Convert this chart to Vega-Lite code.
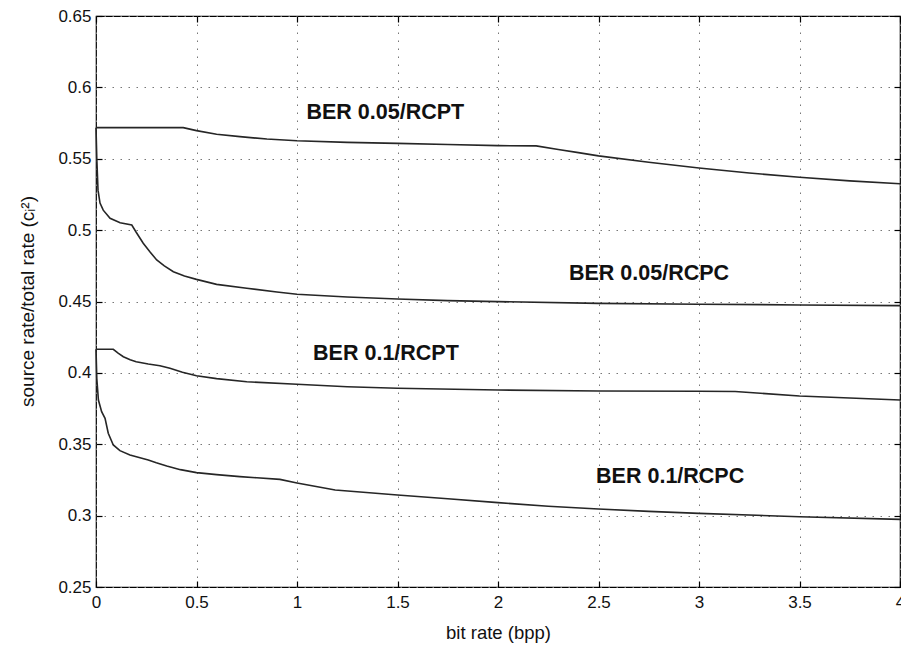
{
  "$schema": "https://vega.github.io/schema/vega-lite/v6.json",
  "width": 804,
  "height": 571,
  "autosize": "none",
  "padding": {"left": 96, "top": 16, "right": 1, "bottom": 58},
  "background": "white",
  "config": {
    "font": "Liberation Sans",
    "view": {"stroke": "#000", "strokeWidth": 1.2}
  },
  "datasets": {
    "curves": [
      {"series": "A", "x": 0, "y": 0.5718},
      {"series": "A", "x": 0.434, "y": 0.5718},
      {"series": "A", "x": 0.5, "y": 0.5697},
      {"series": "A", "x": 0.6, "y": 0.5672},
      {"series": "A", "x": 0.716, "y": 0.5655},
      {"series": "A", "x": 0.85, "y": 0.5638},
      {"series": "A", "x": 1.0, "y": 0.5626},
      {"series": "A", "x": 1.25, "y": 0.5615},
      {"series": "A", "x": 1.5, "y": 0.5608},
      {"series": "A", "x": 1.75, "y": 0.56},
      {"series": "A", "x": 2.0, "y": 0.5592},
      {"series": "A", "x": 2.19, "y": 0.559},
      {"series": "A", "x": 2.3, "y": 0.5565},
      {"series": "A", "x": 2.4, "y": 0.5543},
      {"series": "A", "x": 2.5, "y": 0.552},
      {"series": "A", "x": 2.75, "y": 0.5475},
      {"series": "A", "x": 3.0, "y": 0.5435},
      {"series": "A", "x": 3.25, "y": 0.54},
      {"series": "A", "x": 3.5, "y": 0.537},
      {"series": "A", "x": 3.75, "y": 0.5345},
      {"series": "A", "x": 4.0, "y": 0.5325},

      {"series": "B", "x": 0, "y": 0.5718},
      {"series": "B", "x": 0.004, "y": 0.55},
      {"series": "B", "x": 0.01, "y": 0.528},
      {"series": "B", "x": 0.02, "y": 0.519},
      {"series": "B", "x": 0.036, "y": 0.514},
      {"series": "B", "x": 0.07, "y": 0.5083},
      {"series": "B", "x": 0.12, "y": 0.5052},
      {"series": "B", "x": 0.178, "y": 0.5036},
      {"series": "B", "x": 0.2, "y": 0.4985},
      {"series": "B", "x": 0.235, "y": 0.4908},
      {"series": "B", "x": 0.27, "y": 0.4845},
      {"series": "B", "x": 0.302, "y": 0.4791},
      {"series": "B", "x": 0.34, "y": 0.475},
      {"series": "B", "x": 0.385, "y": 0.4709},
      {"series": "B", "x": 0.44, "y": 0.4678},
      {"series": "B", "x": 0.5, "y": 0.4655},
      {"series": "B", "x": 0.6, "y": 0.462},
      {"series": "B", "x": 0.75, "y": 0.4593},
      {"series": "B", "x": 0.9, "y": 0.4566},
      {"series": "B", "x": 1.0, "y": 0.4551},
      {"series": "B", "x": 1.25, "y": 0.4532},
      {"series": "B", "x": 1.5, "y": 0.4517},
      {"series": "B", "x": 1.75, "y": 0.4506},
      {"series": "B", "x": 2.0, "y": 0.4499},
      {"series": "B", "x": 2.5, "y": 0.4487},
      {"series": "B", "x": 3.0, "y": 0.4481},
      {"series": "B", "x": 3.5, "y": 0.4476},
      {"series": "B", "x": 4.0, "y": 0.4471},

      {"series": "C", "x": 0, "y": 0.4165},
      {"series": "C", "x": 0.086, "y": 0.4165},
      {"series": "C", "x": 0.11, "y": 0.4138},
      {"series": "C", "x": 0.136, "y": 0.4113},
      {"series": "C", "x": 0.17, "y": 0.4092},
      {"series": "C", "x": 0.2, "y": 0.4078},
      {"series": "C", "x": 0.26, "y": 0.4062},
      {"series": "C", "x": 0.318, "y": 0.405},
      {"series": "C", "x": 0.368, "y": 0.4032},
      {"series": "C", "x": 0.43, "y": 0.4005},
      {"series": "C", "x": 0.5, "y": 0.398},
      {"series": "C", "x": 0.6, "y": 0.396},
      {"series": "C", "x": 0.75, "y": 0.3938},
      {"series": "C", "x": 1.0, "y": 0.392},
      {"series": "C", "x": 1.25, "y": 0.3903},
      {"series": "C", "x": 1.5, "y": 0.3892},
      {"series": "C", "x": 2.0, "y": 0.388},
      {"series": "C", "x": 2.5, "y": 0.3873},
      {"series": "C", "x": 3.0, "y": 0.3871},
      {"series": "C", "x": 3.18, "y": 0.387},
      {"series": "C", "x": 3.5, "y": 0.3838},
      {"series": "C", "x": 4.0, "y": 0.381},

      {"series": "D", "x": 0, "y": 0.4165},
      {"series": "D", "x": 0.004, "y": 0.396},
      {"series": "D", "x": 0.012, "y": 0.381},
      {"series": "D", "x": 0.028, "y": 0.3728},
      {"series": "D", "x": 0.045, "y": 0.3682},
      {"series": "D", "x": 0.061, "y": 0.3577},
      {"series": "D", "x": 0.086, "y": 0.3495},
      {"series": "D", "x": 0.119, "y": 0.3455},
      {"series": "D", "x": 0.169, "y": 0.3425},
      {"series": "D", "x": 0.26, "y": 0.339},
      {"series": "D", "x": 0.3, "y": 0.337},
      {"series": "D", "x": 0.352, "y": 0.3348},
      {"series": "D", "x": 0.42, "y": 0.3322},
      {"series": "D", "x": 0.5, "y": 0.3301},
      {"series": "D", "x": 0.6, "y": 0.3287},
      {"series": "D", "x": 0.716, "y": 0.3273},
      {"series": "D", "x": 0.8, "y": 0.3265},
      {"series": "D", "x": 0.915, "y": 0.3254},
      {"series": "D", "x": 1.0, "y": 0.3229},
      {"series": "D", "x": 1.19, "y": 0.3179},
      {"series": "D", "x": 1.5, "y": 0.3144},
      {"series": "D", "x": 1.75, "y": 0.3118},
      {"series": "D", "x": 2.0, "y": 0.3091},
      {"series": "D", "x": 2.25, "y": 0.3066},
      {"series": "D", "x": 2.5, "y": 0.3046},
      {"series": "D", "x": 2.75, "y": 0.303},
      {"series": "D", "x": 3.0, "y": 0.3016},
      {"series": "D", "x": 3.5, "y": 0.2992},
      {"series": "D", "x": 4.0, "y": 0.2974}
    ],
    "labels": [
      {"label": "BER 0.05/RCPT", "x": 1.047, "y": 0.582},
      {"label": "BER 0.05/RCPC", "x": 2.353, "y": 0.4695},
      {"label": "BER 0.1/RCPT", "x": 1.08, "y": 0.4129},
      {"label": "BER 0.1/RCPC", "x": 2.488, "y": 0.3274}
    ]
  },
  "resolve": {"axis": {"x": "independent", "y": "independent"}},
  "layer": [
    {
      "data": {"name": "curves"},
      "mark": {"type": "line", "color": "#262626", "strokeWidth": 1.6},
      "encoding": {
        "x": {
          "field": "x", "type": "quantitative",
          "scale": {"domain": [0, 4], "nice": false, "zero": false},
          "axis": {
            "orient": "bottom",
            "values": [0, 0.5, 1, 1.5, 2, 2.5, 3, 3.5, 4],
            "format": ".1~f",
            "labelFlush": false, "labelOverlap": false,
            "labelFontSize": 17, "labelColor": "#111", "labelPadding": 13,
            "tickSize": -6, "tickColor": "#000", "tickWidth": 1.2,
            "domain": false,
            "grid": true, "gridDash": [1.5, 6.5], "gridColor": "#777", "gridWidth": 1,
            "title": "bit rate (bpp)", "titleFontSize": 18.5, "titleFontWeight": "normal",
            "titleColor": "#111", "titleX": 402, "titleY": 45, "titleBaseline": "middle", "titleAlign": "center"
          }
        },
        "y": {
          "field": "y", "type": "quantitative",
          "scale": {"domain": [0.25, 0.65], "nice": false, "zero": false},
          "axis": {
            "orient": "left",
            "values": [0.25, 0.3, 0.35, 0.4, 0.45, 0.5, 0.55, 0.6, 0.65],
            "format": ".2~f",
            "labelFlush": false, "labelOverlap": false,
            "labelFontSize": 17, "labelColor": "#111", "labelPadding": 11,
            "tickSize": -6, "tickColor": "#000", "tickWidth": 1.2,
            "domain": false,
            "grid": true, "gridDash": [1.5, 6.5], "gridColor": "#777", "gridWidth": 1,
            "title": "source rate/total rate (cᵢ²)", "titleFontSize": 19, "titleFontWeight": "normal",
            "titleColor": "#111", "titleAngle": -90, "titleX": -63, "titleY": 285,
            "titleAlign": "center", "titleBaseline": "alphabetic"
          }
        },
        "detail": {"field": "series"}
      }
    },
    {
      "data": {"name": "labels"},
      "mark": {"type": "text", "font": "Liberation Sans", "fontWeight": "bold", "fontSize": 21.5, "align": "left", "baseline": "middle", "color": "#111"},
      "encoding": {
        "x": {
          "field": "x", "type": "quantitative",
          "axis": {
            "orient": "top",
            "values": [0, 0.5, 1, 1.5, 2, 2.5, 3, 3.5, 4],
            "labels": false, "grid": false, "domain": false, "title": null,
            "tickSize": -6, "tickColor": "#000", "tickWidth": 1.2
          }
        },
        "y": {
          "field": "y", "type": "quantitative",
          "axis": {
            "orient": "right",
            "values": [0.25, 0.3, 0.35, 0.4, 0.45, 0.5, 0.55, 0.6, 0.65],
            "labels": false, "grid": false, "domain": false, "title": null,
            "tickSize": -6, "tickColor": "#000", "tickWidth": 1.2
          }
        },
        "text": {"field": "label"}
      }
    }
  ]
}
